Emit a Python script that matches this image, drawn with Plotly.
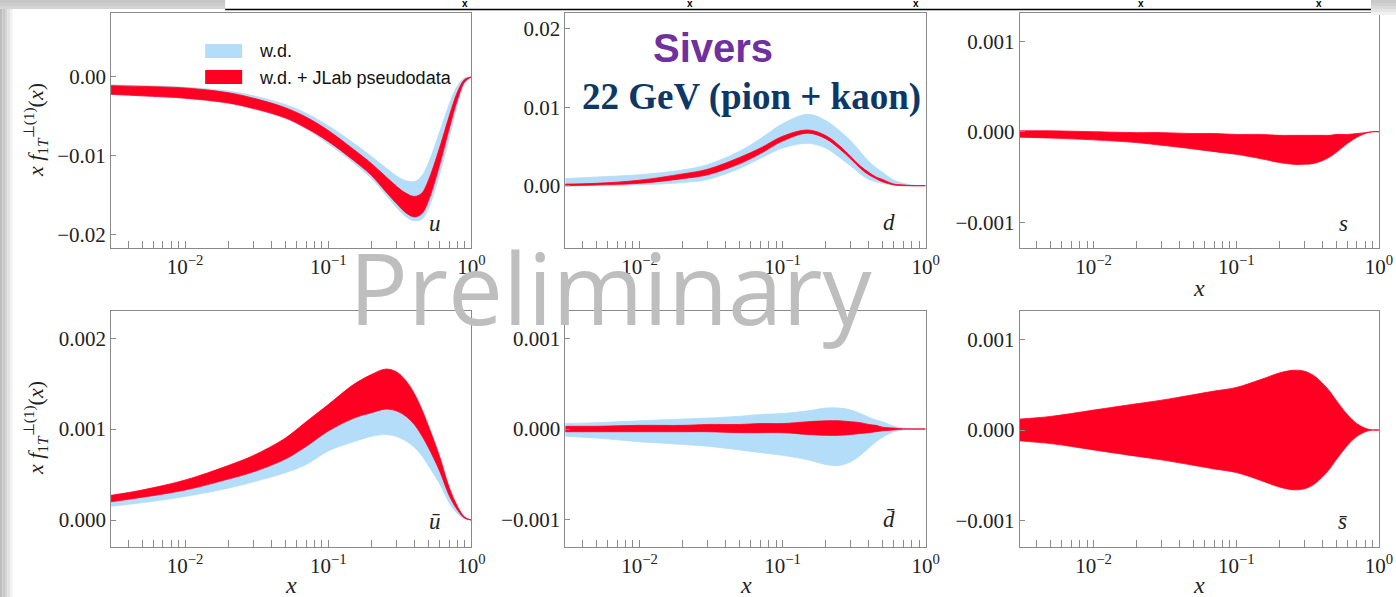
import plotly.graph_objects as go
from plotly.subplots import make_subplots

W, H = 1396, 597
# the page renders the paper ~15px narrower than the window (scrollbar gutter),
# so horizontal pixel positions are converted against this width
PAPER_W = 1381

# x grid shared by all panels
x = [0.003, 0.005, 0.01, 0.02, 0.03, 0.05, 0.07, 0.1, 0.15, 0.2, 0.25, 0.3,
     0.35, 0.4, 0.45, 0.5, 0.6, 0.7, 0.8, 0.9, 1.0]

# u quark
u_wd_hi = [-0.0010, -0.0011, -0.0013, -0.0018, -0.0024, -0.0035, -0.0046, -0.0062, -0.0084, -0.0101, -0.0115,
           -0.0126, -0.0132, -0.0133, -0.0126, -0.0110, -0.0070, -0.0035, -0.0011, -0.0001, 0.0]
u_wd_lo = [-0.0022, -0.0024, -0.0027, -0.0034, -0.0041, -0.0053, -0.0066, -0.0085, -0.0109, -0.0129, -0.0149,
           -0.0166, -0.0178, -0.0183, -0.0181, -0.0168, -0.0124, -0.0078, -0.0036, -0.0008, 0.0]
u_jl_hi = [-0.0011, -0.0012, -0.0014, -0.0020, -0.0027, -0.0039, -0.0051, -0.0068, -0.0092, -0.0110, -0.0126,
           -0.0139, -0.0148, -0.0152, -0.0148, -0.0132, -0.0090, -0.0050, -0.0019, -0.0003, 0.0]
u_jl_lo = [-0.0022, -0.0024, -0.0027, -0.0033, -0.0040, -0.0052, -0.0065, -0.0082, -0.0106, -0.0125, -0.0145,
           -0.0161, -0.0173, -0.0178, -0.0174, -0.0158, -0.0112, -0.0066, -0.0029, -0.0006, 0.0]

# d quark
d_wd_hi = [0.0009, 0.0011, 0.0014, 0.0020, 0.0027, 0.0044, 0.0060, 0.0079, 0.0091, 0.0083, 0.0070,
           0.0057, 0.0043, 0.0031, 0.0023, 0.0017, 0.0007, 0.0003, 0.0001, 0.0, 0.0]
d_wd_lo = [-0.0001, 0.0000, 0.0001, 0.0004, 0.0008, 0.0022, 0.0035, 0.0048, 0.0054, 0.0048, 0.0036,
           0.0025, 0.0015, 0.0008, 0.0005, 0.0003, 0.0001, 0.0, 0.0, 0.0, 0.0]
d_jl_hi = [0.0002, 0.0003, 0.0007, 0.0015, 0.0021, 0.0036, 0.0048, 0.0063, 0.0071, 0.0064, 0.0051,
           0.0037, 0.0025, 0.0017, 0.0011, 0.0008, 0.0002, 0.0001, 0.0, 0.0, 0.0]
d_jl_lo = [0.0000, 0.0001, 0.0003, 0.0009, 0.0014, 0.0028, 0.0041, 0.0057, 0.0067, 0.0060, 0.0047,
           0.0034, 0.0022, 0.0014, 0.0009, 0.0005, 0.0001, 0.0, 0.0, 0.0, 0.0]

# s quark
s_jl_hi = [0.00001, 0.00001, 0.0, -0.00001, -0.00001, -0.00002, -0.00002, -0.00003, -0.00003, -0.00004, -0.00004,
           -0.00004, -0.00004, -0.00004, -0.00004, -0.00003, -0.00003, -0.00002, -0.00001, 0.0, 0.0]
s_jl_lo = [-0.00006, -0.00007, -0.00009, -0.00012, -0.00015, -0.00019, -0.00022, -0.00025, -0.00030, -0.00034, -0.00036,
           -0.00036, -0.00035, -0.00032, -0.00028, -0.00023, -0.00013, -0.00006, -0.00002, 0.0, 0.0]

# u-bar
ub_wd_hi = [0.00023, 0.00028, 0.00036, 0.00048, 0.00056, 0.00070, 0.00084, 0.00101, 0.00115, 0.00121, 0.00125,
            0.00123, 0.00117, 0.00108, 0.00096, 0.00083, 0.00057, 0.00030, 0.00013, 0.00003, 0.0]
ub_wd_lo = [0.00015, 0.00019, 0.00026, 0.00035, 0.00042, 0.00052, 0.00061, 0.00076, 0.00086, 0.00092, 0.00094,
            0.00092, 0.00087, 0.00080, 0.00071, 0.00060, 0.00040, 0.00019, 0.00007, 0.00001, 0.0]
ub_jl_hi = [0.00027, 0.00033, 0.00044, 0.00060, 0.00071, 0.00090, 0.00108, 0.00127, 0.00149, 0.00160, 0.00166,
            0.00163, 0.00153, 0.00139, 0.00122, 0.00104, 0.00070, 0.00036, 0.00015, 0.00003, 0.0]
ub_jl_lo = [0.00020, 0.00025, 0.00033, 0.00045, 0.00053, 0.00067, 0.00081, 0.00098, 0.00112, 0.00118, 0.00122,
            0.00120, 0.00114, 0.00105, 0.00093, 0.00080, 0.00054, 0.00027, 0.00011, 0.00002, 0.0]

# d-bar
db_wd_hi = [0.00006, 0.00007, 0.00009, 0.00011, 0.00012, 0.00014, 0.00016, 0.00017, 0.00020, 0.00023, 0.00023,
            0.00021, 0.00017, 0.00013, 0.00010, 0.00008, 0.00003, 0.00001, 0.0, 0.0, 0.0]
db_wd_lo = [-0.00008, -0.00010, -0.00014, -0.00017, -0.00019, -0.00023, -0.00026, -0.00029, -0.00034, -0.00039, -0.00040,
            -0.00036, -0.00029, -0.00021, -0.00014, -0.00009, -0.00003, -0.00001, 0.0, 0.0, 0.0]
db_jl_hi = [0.00003, 0.00003, 0.00004, 0.00004, 0.00005, 0.00005, 0.00006, 0.00006, 0.00008, 0.00009, 0.00009,
            0.00008, 0.00007, 0.00005, 0.00004, 0.00002, 0.00001, 0.0, 0.0, 0.0, 0.0]
db_jl_lo = [-0.00003, -0.00003, -0.00003, -0.00003, -0.00003, -0.00004, -0.00004, -0.00004, -0.00006, -0.00007, -0.00007,
            -0.00006, -0.00005, -0.00004, -0.00003, -0.00002, -0.00001, 0.0, 0.0, 0.0, 0.0]

# s-bar
sb_jl_hi = [0.00012, 0.00015, 0.00022, 0.00029, 0.00033, 0.00039, 0.00043, 0.00047, 0.00056, 0.00063, 0.00066,
            0.00065, 0.00060, 0.00052, 0.00043, 0.00033, 0.00017, 0.00007, 0.00002, 0.0, 0.0]
sb_jl_lo = [-0.00012, -0.00015, -0.00022, -0.00029, -0.00033, -0.00039, -0.00043, -0.00047, -0.00056, -0.00063, -0.00066,
            -0.00065, -0.00060, -0.00052, -0.00043, -0.00033, -0.00017, -0.00007, -0.00002, 0.0, 0.0]

BLUE = '#B3DDF9'
RED = '#FF0022'
FRAME = '#8a8a8a'
SERIF = 'Liberation Serif'
SANS = 'Liberation Sans'


def px(v):
    return v / PAPER_W


def py(v):
    return 1 - v / H


fig = make_subplots(rows=2, cols=3)


def band(lo, hi, color, row, col):
    fig.add_trace(go.Scatter(x=x, y=lo, mode='lines', showlegend=False, hoverinfo='skip',
                             line=dict(color=color, width=0.8, shape='spline')), row=row, col=col)
    fig.add_trace(go.Scatter(x=x, y=hi, mode='lines', fill='tonexty', fillcolor=color,
                             showlegend=False, hoverinfo='skip',
                             line=dict(color=color, width=0.8, shape='spline')), row=row, col=col)


band(u_wd_lo, u_wd_hi, BLUE, 1, 1)
band(u_jl_lo, u_jl_hi, RED, 1, 1)
band(d_wd_lo, d_wd_hi, BLUE, 1, 2)
band(d_jl_lo, d_jl_hi, RED, 1, 2)
band(s_jl_lo, s_jl_hi, RED, 1, 3)
band(ub_wd_lo, ub_wd_hi, BLUE, 2, 1)
band(ub_jl_lo, ub_jl_hi, RED, 2, 1)
band(db_wd_lo, db_wd_hi, BLUE, 2, 2)
band(db_jl_lo, db_jl_hi, RED, 2, 2)
band(sb_jl_lo, sb_jl_hi, RED, 2, 3)

# x ticks: minor marks at 2..9 of each decade, labels only on decades
xt_vals, xt_text = [], []
for dec in [0.001, 0.01, 0.1]:
    for m in range(1, 10):
        v = m * dec
        if v < 0.003:
            continue
        xt_vals.append(v)
        xt_text.append('10<sup>\u2212%d</sup>' % {0.001: 3, 0.01: 2, 0.1: 1}[dec] if m == 1 else '')
xt_vals.append(1.0)
xt_text.append('10<sup>0</sup>')

col_dom = [(111, 471), (565, 925), (1019, 1378)]
row_dom = [(13, 248), (311, 547)]
yranges = [[-0.02176, 0.00814], [-0.00795, 0.02203], [-0.001285, 0.001312],
           [-0.000297, 0.0023], [-0.0013, 0.0013], [-0.001293, 0.001315]]
yticks = [[-0.02, -0.01, 0.0], [0.0, 0.01, 0.02], [-0.001, 0.0, 0.001],
          [0.0, 0.001, 0.002], [-0.001, 0.0, 0.001], [-0.001, 0.0, 0.001]]
yfmt = ['.2f', '.2f', '.3f', '.3f', '.3f', '.3f']

tickfont = dict(family=SERIF, size=21, color='#222')
k = 0
for r in range(2):
    for c in range(3):
        k += 1
        xa = 'xaxis' if k == 1 else 'xaxis%d' % k
        ya = 'yaxis' if k == 1 else 'yaxis%d' % k
        fig.layout[xa].update(
            domain=[px(col_dom[c][0]), min(1.0, px(col_dom[c][1]))], type='log', range=[-2.5175, 0],
            tickvals=xt_vals, ticktext=xt_text, ticks='inside', ticklen=7, tickcolor=FRAME,
            showline=True, mirror=True, linecolor=FRAME, linewidth=1, showgrid=False,
            zeroline=False, tickfont=tickfont, tickangle=0)
        fig.layout[ya].update(
            domain=[py(row_dom[r][1]), py(row_dom[r][0])], range=yranges[k - 1],
            tickvals=yticks[k - 1], tickformat=yfmt[k - 1], ticks='inside', ticklen=5,
            tickcolor=FRAME, showline=True, mirror=True, linecolor=FRAME, linewidth=1,
            showgrid=False, zeroline=False, tickfont=tickfont)

ann = []


def text(t, X, Y, size, family=SERIF, color='#222', angle=0, xanchor='center'):
    ann.append(dict(text=t, x=px(X), y=py(Y), xref='paper', yref='paper', showarrow=False,
                    xanchor=xanchor, yanchor='middle', textangle=angle,
                    font=dict(family=family, size=size, color=color)))


ylab = '<i>x f</i><sub>1<i>T</i></sub><sup>\u22a5(1)</sup>(<i>x</i>)'
text(ylab, 35, 130, 22, angle=-90)
text(ylab, 35, 428, 22, angle=-90)

for X, Y in [(1198, 288), (291, 585), (745, 585), (1198, 585)]:
    text('<i>x</i>', X, Y, 24)

for t, X, Y in [('<i>u</i>', 435, 224), ('<i>d</i>', 888, 222), ('<i>s</i>', 1343, 224),
                ('<i>\u016b</i>', 435, 521), ('<i>d\u0304</i>', 888, 519), ('<i>s\u0304</i>', 1342, 521)]:
    text(t, X, Y, 23)

# legend
text('w.d.', 257, 51, 18, family=SANS, color='#111', xanchor='left')
text('w.d. + JLab pseudodata', 257, 78, 18, family=SANS, color='#111', xanchor='left')

# headings
text('<b>Sivers</b>', 712, 48, 40, family=SANS, color='#7030A0')
text('<b>22 GeV (pion + kaon)</b>', 751, 97, 37, family=SERIF, color='#0D3766')

# watermark
text('Preliminary', 611, 287, 98, family='Open Sans', color='#BEBEBE')

# slide marks along the top rule
for X in [465, 690, 915, 1140, 1318]:
    text('<b>x</b>', X, 4, 10, family=SANS, color='#000')

shapes = []


def rect(x0, y0, x1, y1, color):
    shapes.append(dict(type='rect', xref='paper', yref='paper', x0=px(x0), x1=px(x1),
                       y0=py(y1), y1=py(y0), fillcolor=color, line=dict(width=0), layer='above'))


rect(205, 44, 242, 58, BLUE)
rect(205, 70, 242, 84, RED)

# screenshot edge shading
for i, col in enumerate(['#bdbdbd', '#c8c8c8', '#d5d5d5', '#e3e3e3', '#f1f1f1']):
    rect(i * 2.5, 9, i * 2.5 + 2.5, H, col)
for i, col in enumerate(['#c6c6c6', '#cdcdcd', '#d4d4d4']):
    rect(0, i * 3, 225, i * 3 + 3, col)
for i, col in enumerate(['#c8c8c8', '#d0d0d0', '#dadada', '#e6e6e6', '#f2f2f2']):
    rect(1370, i * 3, W, i * 3 + 3, col)
shapes.append(dict(type='line', xref='paper', yref='paper', x0=px(225), x1=px(1370),
                   y0=py(9.5), y1=py(9.5), line=dict(color='#000', width=1.5), layer='above'))

fig.update_layout(width=W, height=H, autosize=False, margin=dict(l=0, r=0, t=0, b=0),
                  paper_bgcolor='white', plot_bgcolor='white', showlegend=False,
                  annotations=ann, shapes=shapes)

post = """
document.documentElement.style.overflow = 'hidden';
document.body.style.margin = '0';
document.body.style.overflow = 'hidden';
"""

fig.write_html("out.html", config={'responsive': False, 'displayModeBar': False},
               post_script=post)
